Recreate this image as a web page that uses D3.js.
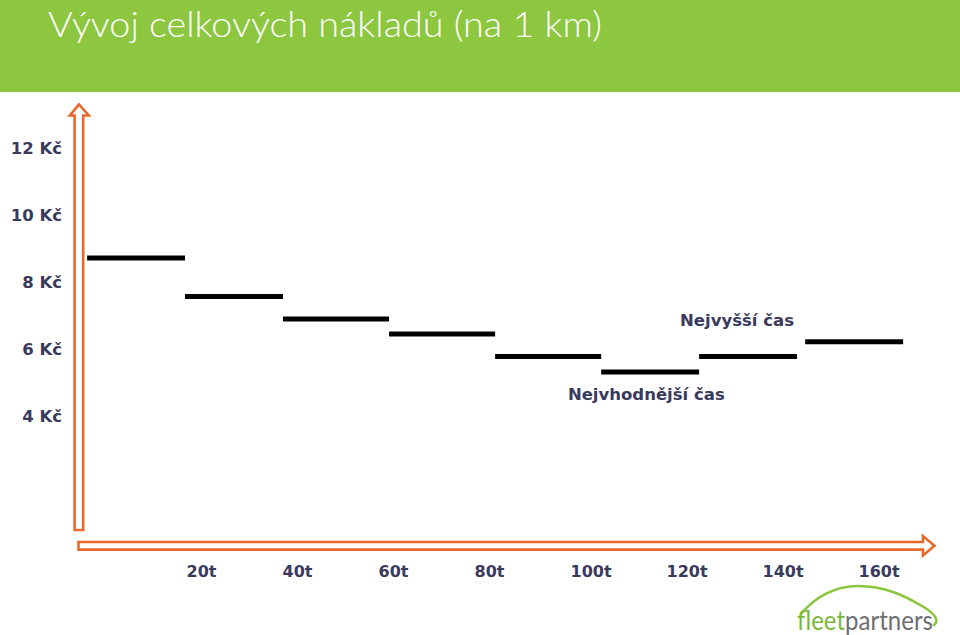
<!DOCTYPE html>
<html>
<head>
<meta charset="utf-8">
<script src="https://cdn.jsdelivr.net/npm/d3@7"></script>
<style>
  html, body { margin: 0; padding: 0; background: #ffffff; }
  svg { display: block; }
</style>
</head>
<body>
<script>
// ---- data ----
const title = "Vývoj celkových nákladů (na 1 km)";
const yTickValues = [4, 6, 8, 10, 12];
const yTickLabels = ["4 Kč", "6 Kč", "8 Kč", "10 Kč", "12 Kč"];
const xTickValues = [20, 40, 60, 80, 100, 120, 140, 160];
const xTickLabels = ["20t", "40t", "60t", "80t", "100t", "120t", "140t", "160t"];
// each cost step: start / end in tonnes, cost per km (Kč)
const segStart = [-0.6, 19.8, 40.2, 62.3, 84.4, 106.5, 126.9, 149.0];
const segEnd   = [19.8, 40.2, 62.3, 84.4, 106.5, 126.9, 147.3, 169.4];
const segCost  = [8.7, 7.55, 6.88, 6.43, 5.76, 5.3, 5.76, 6.2];
const noteTexts = ["Nejvyšší čas", "Nejvhodnější čas"];
const noteT     = [134.8, 115.9];
const noteCost  = [6.66, 4.45];

// ---- setup ----
const W = 960, H = 635;
const navy = "#3a3a5c", orange = "#e8692b", green = "#8dc63f";
const svg = d3.select("body").append("svg").attr("width", W).attr("height", H);

const x = d3.scaleLinear().domain([20, 160]).range([186, 858]);
const y = d3.scaleLinear().domain([4, 12]).range([415.5, 147.5]);

// banner
svg.append("rect").attr("x", 0).attr("y", 0).attr("width", W).attr("height", 92).attr("fill", green);
svg.append("text").text(title)
  .attr("x", 48).attr("y", 37)
  .attr("font-family", "Lato, 'Open Sans', sans-serif").attr("font-weight", 300)
  .attr("font-size", 36).attr("fill", "#ffffff")
  .attr("textLength", 554).attr("lengthAdjust", "spacingAndGlyphs");

// axis arrows (hollow block arrows)
const arrowStyle = g => g.attr("fill", "#ffffff").attr("stroke", orange).attr("stroke-width", 2.6).attr("stroke-linejoin", "miter");
svg.append("path").call(arrowStyle)
  .attr("d", "M74.6,530 L74.6,115.5 L69.8,115.5 L79,104.5 L88.8,115.5 L83.2,115.5 L83.2,530 Z");
svg.append("path").call(arrowStyle)
  .attr("d", "M78.5,542 L923,542 L923,536 L934.5,545.8 L923,555.5 L923,549.6 L78.5,549.6 Z");

// y axis labels
const yAxis = d3.axisLeft(y).tickValues(yTickValues)
  .tickFormat((d, i) => yTickLabels[i]).tickSize(0).tickPadding(0);
const gy = svg.append("g").attr("transform", "translate(62,0)").call(yAxis);
gy.select(".domain").remove();
gy.selectAll("text")
  .attr("font-family", "'DejaVu Sans', Verdana, sans-serif").attr("font-weight", "bold")
  .attr("font-size", 16.5).attr("fill", navy).attr("dy", "0.34em");

// x axis labels
const xAxis = d3.axisBottom(x).tickValues(xTickValues)
  .tickFormat((d, i) => xTickLabels[i]).tickSize(0).tickPadding(0);
const gx = svg.append("g").attr("transform", "translate(0,577)").call(xAxis);
gx.select(".domain").remove();
gx.selectAll("text")
  .attr("y", 0).attr("dy", 0).attr("text-anchor", "start")
  .attr("font-family", "'DejaVu Sans', Verdana, sans-serif").attr("font-weight", "bold")
  .attr("font-size", 16).attr("fill", navy);

// cost steps
svg.append("g").selectAll("line").data(segCost).join("line")
  .attr("x1", (d, i) => x(segStart[i]))
  .attr("x2", (d, i) => x(segEnd[i]))
  .attr("y1", d => y(d)).attr("y2", d => y(d))
  .attr("stroke", "#000000").attr("stroke-width", 5);

// annotations
svg.append("g").selectAll("text").data(noteTexts).join("text")
  .text(d => d)
  .attr("x", (d, i) => x(noteT[i])).attr("y", (d, i) => y(noteCost[i]))
  .attr("text-anchor", "middle")
  .attr("font-family", "'DejaVu Sans', Verdana, sans-serif").attr("font-weight", "bold")
  .attr("font-size", 16.5).attr("fill", navy);

// logo
const logo = svg.append("g");
logo.append("path")
  .attr("d", "M801,614 C815,597 835,586 858,586 C885,586 905,596 922,606 C934,613 940,620 934,625")
  .attr("fill", "none").attr("stroke", "#8cc63f").attr("stroke-width", 2.6).attr("stroke-linecap", "round");
const lt = logo.append("text").attr("x", 797).attr("y", 630)
  .attr("font-family", "Lato, 'Open Sans', sans-serif").attr("font-weight", 400)
  .attr("font-size", 26).attr("textLength", 136).attr("lengthAdjust", "spacingAndGlyphs");
lt.append("tspan").text("fleet").attr("fill", "#7cb83a");
lt.append("tspan").text("partners").attr("fill", "#6d6e71");
</script>
</body>
</html>
